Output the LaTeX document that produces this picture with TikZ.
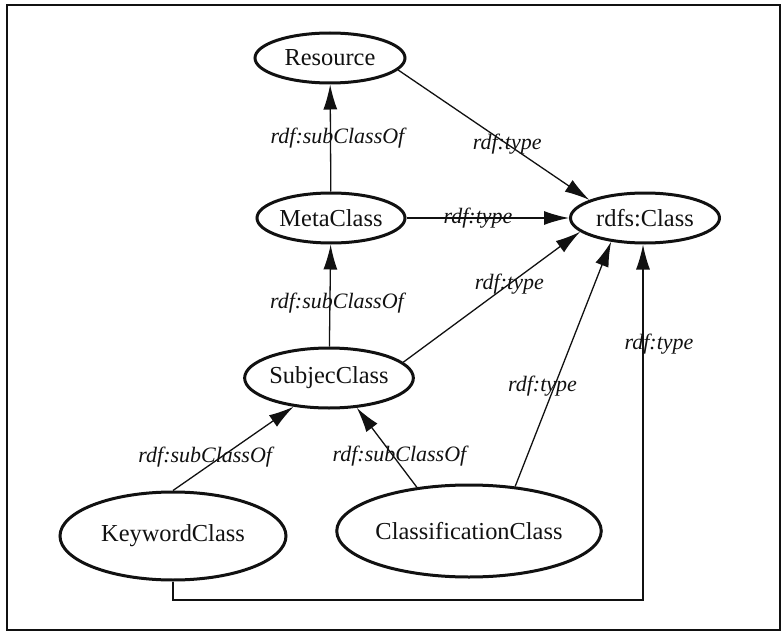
\documentclass[tikz,border=0pt]{standalone}
\usepackage{fontspec}
\setmainfont{Liberation Serif}
\usepackage{xcolor}
\usepackage{tikz}
\usetikzlibrary{shapes.geometric,arrows.meta}
\definecolor{ink}{HTML}{111111}
\tikzset{
  cls/.style={ellipse, draw=ink, line width=1.5pt, inner sep=0pt, text=ink, font=\fontsize{12.2}{14}\selectfont},
  rel/.style={draw=ink, line width=0.65pt, -{Latex[length=12.5pt,width=7pt]}},
  lab/.style={text=ink, font=\fontsize{11}{13}\selectfont\itshape, inner sep=0pt},
  frame/.style={draw=ink, line width=0.8pt},
}
\begin{document}
\begin{tikzpicture}[x=0.5pt,y=-0.5pt]
  \useasboundingbox (0,0) rectangle (782,631);
  \draw[frame] (7,5) rectangle (780,630);

  \node[cls, minimum width=75pt, minimum height=25pt] (res) at (330,58) {Resource};
  \node[cls, minimum width=74pt, minimum height=25pt] (meta) at (331,218) {MetaClass};
  \node[cls, minimum width=74.5pt, minimum height=25pt] (rdfs) at (645,218) {rdfs:Class};
  \node[cls, minimum width=72pt, minimum height=30pt] (subj) at (329,378) {SubjecClass};
  \node[cls, minimum width=113pt, minimum height=44pt] (kw) at (173,536) {KeywordClass};
  \node[cls, minimum width=111.5pt, minimum height=46pt] (cc) at (469,531) {ClassificationClass};
  \coordinate (bend) at (643,600);

  \draw[rel] (res.-10) -- node[lab, pos=0.57] {rdf:type} (rdfs.162);
  \draw[rel] (meta) -- node[lab, pos=0.5, xshift=3.5pt] {rdf:subClassOf} (res);
  \draw[rel] (meta) -- node[lab, pos=0.44] {rdf:type} (rdfs);
  \draw[rel] (subj) -- node[lab, pos=0.43, xshift=3.5pt] {rdf:subClassOf} (meta);
  \draw[rel] (subj.12) -- node[lab, pos=0.6] {rdf:type} (rdfs.192);
  \draw[rel] (kw.north) -- node[lab, pos=0.4, xshift=-8pt] {rdf:subClassOf} (subj.-141);
  \draw[rel] (cc.140) -- node[lab, pos=0.39, xshift=3pt] {rdf:subClassOf} (subj.-47);
  \draw[rel] (cc.44) -- node[lab, pos=0.41, xshift=-6pt] {rdf:type} (rdfs.-145);
  \draw[rel] (kw.south) |- (bend) -- node[lab, pos=0.72, xshift=8pt] {rdf:type} (bend |- rdfs.south); % round the bottom
\end{tikzpicture}
\end{document}
